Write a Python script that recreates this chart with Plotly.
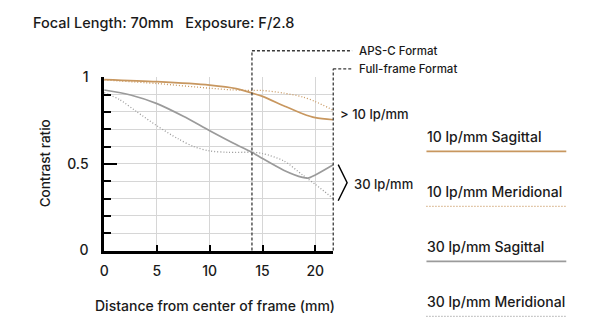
import plotly.graph_objects as go

# ---- data ----
x_s10 = [0, 5, 10, 12.5, 14, 15, 17, 18.8, 20, 21.7]
s10 = [0.987, 0.975, 0.955, 0.935, 0.909, 0.89, 0.836, 0.79, 0.767, 0.755]
x_m10 = [0, 5, 10, 12, 14, 15, 17, 18.8, 20, 21.7]
m10 = [0.985, 0.964, 0.937, 0.928, 0.924, 0.924, 0.909, 0.887, 0.86, 0.81]
x_s30 = [0, 2.5, 5, 7.5, 10, 12.5, 14, 15, 17, 18.8, 19.3, 20, 21.7]
s30 = [0.927, 0.898, 0.848, 0.775, 0.692, 0.612, 0.567, 0.531, 0.464, 0.422, 0.418, 0.436, 0.495]
x_m30 = [0, 1.5, 3, 5, 7, 8.5, 10, 11.7, 14, 15, 17, 18.8, 20, 21.7]
m30 = [0.912, 0.87, 0.805, 0.72, 0.645, 0.60, 0.575, 0.567, 0.567, 0.56, 0.518, 0.436, 0.382, 0.30]

x_ticks = [0, 5, 10, 15, 20]
aps_c_x = 14.0
full_frame_x = 21.7
series_names = ["10 lp/mm Sagittal", "10 lp/mm Meridional", "30 lp/mm Sagittal", "30 lp/mm Meridional"]

ORANGE = "#C8975F"
GRAY = "#9B9B9B"
FONT = "Inter"
TXT = "#1a1a1a"
WT = 500

W, H = 600, 333
XR = [0, 21.7]
YR = [0, 1]
dom_x = [100 / W, 331 / W]
dom_y = [(H - 254.5) / H, (H - 72) / H]

def px(xpix):
    return xpix / W

def py(ypix):
    return (H - ypix) / H

def data_to_paper_x(v):
    return dom_x[0] + (v - XR[0]) / (XR[1] - XR[0]) * (dom_x[1] - dom_x[0])

fig = go.Figure()
styles = [(ORANGE, "solid", x_s10, s10), (ORANGE, "1px,2px", x_m10, m10),
          (GRAY, "solid", x_s30, s30), (GRAY, "1px,2px", x_m30, m30)]
for name, (c, d, xs, ys) in zip(series_names, styles):
    fig.add_trace(go.Scatter(x=xs, y=ys, mode="lines", name=name,
                             line=dict(color=c, dash=d, width=1.7 if d == "solid" else 1.3,
                                       shape="spline", smoothing=0.8),
                             showlegend=False, cliponaxis=False))

axis_font = dict(size=14, family=FONT, color=TXT, weight=WT)
fig.update_layout(
    width=W, height=H, margin=dict(l=0, r=0, t=0, b=0),
    paper_bgcolor="white", plot_bgcolor="white",
    font=dict(family=FONT, color=TXT, size=13),
    xaxis=dict(domain=dom_x, range=XR, tickvals=x_ticks, ticks="inside", ticklen=6, tickwidth=2,
               tickcolor="black", showline=True, linecolor="black", linewidth=2.5,
               showgrid=True, gridcolor="#d6d6d6", gridwidth=1, zeroline=False,
               tickfont=axis_font, ticklabelstandoff=6),
    yaxis=dict(domain=dom_y, range=YR, tickmode="linear", tick0=0, dtick=0.5,
               ticks="inside", ticklen=13, tickwidth=2, tickcolor="black",
               showline=True, linecolor="black", linewidth=2.5,
               showgrid=True, gridcolor="#d6d6d6", gridwidth=1, zeroline=False,
               minor=dict(tickmode="linear", tick0=0, dtick=0.1, ticks="inside", ticklen=7, tickwidth=2,
                          tickcolor="black", showgrid=True, gridcolor="#d6d6d6", gridwidth=1),
               tickfont=axis_font, ticklabelstandoff=10),
)

shapes = []
dash_line = dict(color="#3a3a3a", width=1.3, dash="3px,2px")
ax = data_to_paper_x(aps_c_x)
shapes.append(dict(type="line", xref="paper", yref="paper", x0=ax, x1=ax, y0=dom_y[0], y1=py(44), line=dash_line))
shapes.append(dict(type="line", xref="paper", yref="paper", x0=ax, x1=px(350), y0=py(44), y1=py(44), line=dash_line))
fx = data_to_paper_x(full_frame_x)
shapes.append(dict(type="line", xref="paper", yref="paper", x0=fx, x1=fx, y0=dom_y[0], y1=py(63), line=dash_line))
shapes.append(dict(type="line", xref="paper", yref="paper", x0=fx, x1=px(350), y0=py(63), y1=py(63), line=dash_line))
shapes.append(dict(type="path", xref="paper", yref="paper",
                   path=f"M {px(336)} {py(164)} L {px(345)} {py(183)} L {px(336)} {py(202)}",
                   line=dict(color="black", width=1.4)))
leg_y = [150, 208, 266, 324]
for (c, d, _, _), ly in zip(styles, leg_y):
    shapes.append(dict(type="line", xref="paper", yref="paper", x0=px(425), x1=px(566), y0=py(ly), y1=py(ly),
                       line=dict(color=c, width=1.7 if d == "solid" else 1.3, dash=d)))
fig.update_layout(shapes=shapes)

ann = []
def text(t, x, y, size=13, xanchor="left", angle=0):
    ann.append(dict(text=t, x=px(x), y=py(y), xref="paper", yref="paper", showarrow=False,
                    xanchor=xanchor, yanchor="middle", textangle=angle,
                    font=dict(size=size, family=FONT, color=TXT, weight=WT)))

text("Focal Length: 70mm   Exposure: F/2.8", 26, 15, size=14.5)
text("Contrast ratio", 40, 163, size=13.5, xanchor="center", angle=-90)
text("Distance from center of frame (mm)", 212, 312, size=14, xanchor="center")
text("APS-C Format", 355, 44, size=11.5)
text("Full-frame Format", 355, 63, size=11.5)
text("> 10 lp/mm", 336, 111, size=13)
text("30 lp/mm", 350, 184, size=13)
for name, ly in zip(series_names, leg_y):
    text(name, 424, ly - 16, size=14)
fig.update_layout(annotations=ann)

fig.write_html("out.html")
